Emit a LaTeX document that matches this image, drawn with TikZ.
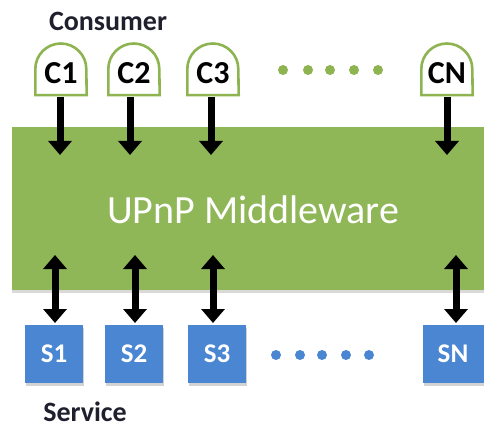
\documentclass[tikz,border=0pt]{standalone}
\usepackage{fontspec}
\setmainfont{Carlito}
\usetikzlibrary{arrows.meta,shadows,calc}

\definecolor{mwgreen}{HTML}{8FB657}
\definecolor{archgreen}{HTML}{8DB450}
\definecolor{svcblue}{HTML}{4A86D2}
\definecolor{labeldark}{HTML}{1F1F2E}

\tikzset{
  x=1pt, y=1pt,
  consumer/.style={minimum width=51pt, minimum height=52pt, inner sep=0pt,
    font=\bfseries\fontsize{32}{32}\selectfont, text=black},
  service/.style={fill=svcblue, minimum width=58pt, minimum height=58pt,
    inner sep=0pt, font=\bfseries\fontsize{27}{27}\selectfont, text=white,
    drop shadow={shadow xshift=1pt, shadow yshift=-3pt, opacity=0.35}},
  middleware/.style={fill=mwgreen, inner sep=0pt, anchor=south west,
    drop shadow={shadow xshift=0pt, shadow yshift=-3pt, opacity=0.3}},
  heading/.style={font=\bfseries\fontsize{28}{28}\selectfont, text=labeldark,
    inner sep=0pt},
  archline/.style={draw=archgreen, line width=2.6pt, fill=white},
  flowarrow/.style={line width=7pt, black,
    -{Triangle[width=23pt, length=14pt]}},
  bothways/.style={line width=7pt, black,
    {Triangle[width=23pt, length=14pt]}-{Triangle[width=23pt, length=14pt]}},
  gdot/.style={fill=archgreen, draw=none},
  bdot/.style={fill=svcblue, draw=none},
}

% arch outline (flat bottom, round top) behind a consumer node
\newcommand{\archbehind}[1]{%
  \path[archline] (#1.south west) -- (#1.west)
    arc[start angle=180, end angle=0, radius=25.5pt] -- (#1.south east) -- cycle;}

\begin{document}
\begin{tikzpicture}
\useasboundingbox (0,0) rectangle (484,429);

% middleware block
\node[middleware, minimum width=472pt, minimum height=163pt] (mw) at (12,139) {};
\node[text=white, font=\fontsize{40}{40}\selectfont] (mwlabel) at (253,219) {UPnP Middleware};

% consumers: arch frames first, labels on top
\foreach \n/\xx in {c1/61, c2/134, c3/213, cn/447}{
  \node[consumer] (\n box) at (\xx,360) {};
  \archbehind{\n box}
}
\node[consumer] (c1) at ($(c1box.center)+(0,-4)$) {C1};
\node[consumer] (c2) at ($(c2box.center)+(0,-4)$) {C2};
\node[consumer] (c3) at ($(c3box.center)+(0,-4)$) {C3};
\node[consumer] (cn) at ($(cnbox.center)+(0,-4)$) {CN};

\node[heading] (consumerlabel) at (108,408) {Consumer};

% services
\node[service] (s1) at (54,75) {S1};
\node[service] (s2) at (134,75) {S2};
\node[service] (s3) at (217,75) {S3};
\node[service, minimum width=61pt] (sn) at (453,75) {SN};

\node[heading, anchor=base] (servicelabel) at (85,8) {Service};

% consumer -> middleware
\foreach \xx in {60,130,211,447}{
  \draw[flowarrow] (\xx,332) -- (\xx,274);
}

% middleware <-> services
\foreach \xx in {55,135,213,456}{
  \draw[bothways] (\xx,174) -- (\xx,106);
}

% ellipsis dots
\foreach \xx in {283,308,330,354,378}{
  \fill[gdot] (\xx,359) circle (5pt);
}
\foreach \xx in {276,300,322,346,369}{
  \fill[bdot] (\xx,74) circle (5pt);
}
\end{tikzpicture}
\end{document}
